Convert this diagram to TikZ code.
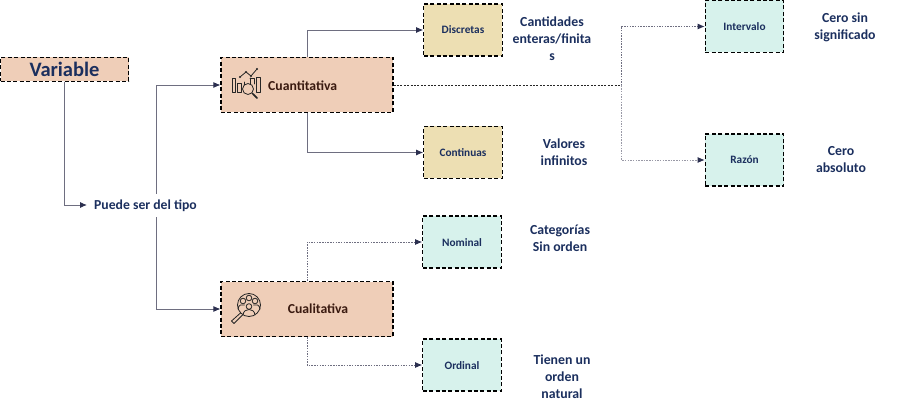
\documentclass[tikz,border=0pt]{standalone}
\usepackage{fontspec}
\setmainfont{Carlito}
\usetikzlibrary{arrows.meta}
\definecolor{navy}{HTML}{1B2F5E}
\definecolor{peach}{HTML}{EFCEB8}
\definecolor{sand}{HTML}{EDDFB3}
\definecolor{mint}{HTML}{D7F2EC}
\definecolor{brownink}{HTML}{3A1A10}
\definecolor{linegray}{HTML}{6E6E80}
\definecolor{tipink}{HTML}{2B2F4F}
\newcommand{\boxtxt}[2][-4pt]{\raisebox{#1}[0pt][0pt]{#2}}
\tikzset{
  x=1pt,y=-1pt,
  base/.style={draw=black,dash pattern=on 4pt off 2.4pt,line width=1.1pt,inner sep=0pt,font=\bfseries},
  peachbox/.style={base,fill=peach,minimum width=172pt,minimum height=55pt},
  sandbox/.style={base,fill=sand,minimum width=78.5pt,minimum height=52pt,text=navy,font=\bfseries\fontsize{11.3}{13}\selectfont},
  mintbox/.style={base,fill=mint,minimum width=78.5pt,minimum height=52pt,text=navy,font=\bfseries\fontsize{11.3}{13}\selectfont},
  note/.style={text=navy,align=center,inner sep=0pt,font=\bfseries\fontsize{13.8}{16.8}\selectfont},
  midlabel/.style={inner sep=0pt,font=\bfseries\fontsize{13.7}{15}\selectfont},
  solidlink/.style={draw=linegray,line width=0.9pt,-{Latex[length=7pt,width=6pt,color=tipink]}},
  dotlink/.style={draw=linegray,line width=0.9pt,dash pattern=on 1.5pt off 1.2pt,-{Latex[length=7pt,width=6pt,color=tipink]}},
  dotplain/.style={draw=black!85,line width=0.9pt,dash pattern=on 2pt off 1.4pt},
  iconline/.style={draw=black!85,line width=0.8pt,fill=none,line cap=round,line join=round},
}
\begin{document}
\begin{tikzpicture}
\useasboundingbox (0,0) rectangle (900,409);
% boxes
\node[base,fill=peach,minimum width=128pt,minimum height=24pt,text=navy,font=\bfseries\fontsize{20.5}{22}\selectfont] (var) at (64.5,69.5) {\boxtxt[-7pt]{Variable}};
\node[peachbox] (quant) at (307,85) {};
\node[peachbox] (cual) at (307,309) {};
\node[midlabel,anchor=west,text=brownink] (quantlabel) at (268,85.5) {Cuantitativa};
\node[midlabel,text=brownink] (cuallabel) at (318,308.5) {Cualitativa};
\node[sandbox] (disc) at (463,30) {\boxtxt{Discretas}};
\node[sandbox] (cont) at (463,152.5) {\boxtxt{Continuas}};
\node[mintbox] (nom) at (462,242) {\boxtxt{Nominal}};
\node[mintbox] (ord) at (462,365) {\boxtxt{Ordinal}};
\node[mintbox] (inter) at (744.5,26.5) {\boxtxt{Intervalo}};
\node[mintbox] (raz) at (744.5,160) {\boxtxt{Razón}};
\node[midlabel,text=navy] (puede) at (145.5,206) {Puede ser del tipo};
% notes
\node[note] (n1) at (552,38.5) {Cantidades\\enteras/finita\\s};
\node[note] (n2) at (564,152) {Valores\\infinitos};
\node[note] (n3) at (845,27.5) {Cero sin\\significado};
\node[note] (n4) at (841,159.5) {Cero\\absoluto};
\node[note] (n5) at (560,238) {Categorías\\Sin orden};
\node[note] (n6) at (562,376.5) {Tienen un\\orden\\natural};
% helper coordinates
\coordinate (puedeend) at (87,205);
\coordinate (branchup) at (156.5,194);
\coordinate (branchdown) at (156.5,217);
\coordinate (split) at (621,85.5);
% connectors
\draw[solidlink] (var.south) |- (puedeend);
\draw[solidlink] (branchup) |- (quant.west);
\draw[solidlink] (branchdown) |- (cual.west);
\draw[solidlink] (quant.north) |- (disc.west);
\draw[solidlink] (quant.south) |- (cont.west);
\draw[dotplain] (quant.east |- split) -- (split);
\draw[dotlink] (split) |- (inter.west);
\draw[dotlink,draw=linegray!70] (split) |- (raz.west);
\draw[dotlink] (cual.north) |- (nom.west);
\draw[dotlink] (cual.south) |- (ord.west);
% icon: chart with magnifier
\begin{scope}[iconline]
  \draw (232,78) rectangle (235,92);
  \draw (237.5,83) rectangle (241.5,92);
  \draw (244.5,82) -- (244.5,85);
  \draw (250,78) -- (250,84) (250,78) -- (254,78) -- (254,84);
  \draw (256,77) rectangle (260,92);
  \draw (240,77) -- (246,72) -- (251,76) -- (257,69);
  \fill[black!85] (240,77) circle (1.1) (246,72) circle (1.1) (251,76) circle (1.1) (257,69) circle (1.1);
  \draw (248,89) circle (5.5);
  \draw (252,93) -- (257,98);
  \draw[line width=1.6pt] (253,94) -- (257,98);
\end{scope}
% icon: people under magnifier
\begin{scope}[iconline]
  \draw (249,305) circle (11.5);
  \draw (240.5,313) -- (231.5,321) -- (234,323.5) -- (242.5,315);
  \draw (243,301) circle (2.8);
  \draw (255,301) circle (2.8);
  \draw (249,298) circle (2.8);
  \draw (249,306.5) circle (2.8);
  \draw (238,309) .. controls (238.5,304.5) and (242,304) .. (244.5,305);
  \draw (260,309) .. controls (259.5,304.5) and (256,304) .. (253.5,305);
  \draw (243,315) .. controls (243.5,311) and (246,309.5) .. (249,309.5) .. controls (252,309.5) and (254.5,311) .. (255,315);
\end{scope}
\end{tikzpicture}
\end{document}
